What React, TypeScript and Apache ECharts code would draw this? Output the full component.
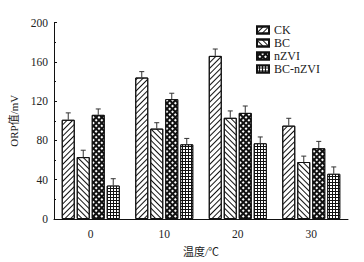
import React, { useEffect, useRef } from "react";
import * as echarts from "echarts";

const categories = ["0", "10", "20", "30"];
const seriesNames = ["CK", "BC", "nZVI", "BC-nZVI"];
const ckValues = [101, 144, 166, 95];
const bcValues = [63, 92, 103, 58];
const nzviValues = [106, 122, 108, 72];
const bcNzviValues = [34, 76, 77, 46];
const ckErrors = [7, 6, 7, 7.5];
const bcErrors = [7, 6, 7, 6];
const nzviErrors = [6, 6, 7, 7];
const bcNzviErrors = [7, 6, 6.5, 7];
const yTicks = [0, 40, 80, 120, 160, 200];

const serif = "'Liberation Serif', 'Times New Roman', 'Noto Sans CJK SC', serif";

const fills = ["#fff", "#fff", "#111", "#111"];
const decals: any[] = [
  {
    symbol: "rect", symbolSize: 1, color: "#111",
    dashArrayX: [1, 0], dashArrayY: [1, 3], rotation: -Math.PI / 4,
  },
  {
    symbol: "rect", symbolSize: 1, color: "#111",
    dashArrayX: [1, 0], dashArrayY: [1, 3], rotation: Math.PI / 4,
  },
  {
    symbol: "rect", symbolSize: 1, color: "#fff",
    dashArrayX: [2, 1.2], dashArrayY: [2, 1.2], rotation: Math.PI / 4,
  },
  {
    symbol: "rect", symbolSize: 1, color: "#fff",
    dashArrayX: [2, 1], dashArrayY: [2, 1], rotation: 0,
  },
];

export default function App() {
  const ref = useRef<HTMLDivElement>(null);
  useEffect(() => {
    if (!ref.current) return;
    const chart = echarts.init(ref.current, undefined, { renderer: "svg" });
    const values = [ckValues, bcValues, nzviValues, bcNzviValues];
    const errors = [ckErrors, bcErrors, nzviErrors, bcNzviErrors];
    const barWidth = 13;
    const gapPx = 2;
    const offsets = [0, 1, 2, 3].map((i) => (i - 1.5) * (barWidth + gapPx));

    const barSeries = seriesNames.map((name, i) => ({
      name,
      type: "bar",
      data: values[i],
      barWidth,
      barGap: `${(gapPx / barWidth) * 100}%`,
      itemStyle: { color: fills[i], borderColor: "#111", borderWidth: 1, decal: decals[i] },
      emphasis: { disabled: true },
    }));

    const errSeries = seriesNames.map((name, i) => ({
      name: name + "-err",
      type: "custom",
      z: 3,
      data: values[i].map((v, j) => [j, v, v + errors[i][j]]),
      renderItem: (params: any, api: any) => {
        const c = api.value(0);
        const p0 = api.coord([c, api.value(1)]);
        const p1 = api.coord([c, api.value(2)]);
        const x = p0[0] + offsets[i];
        return {
          type: "group",
          children: [
            { type: "line", shape: { x1: x, y1: p0[1], x2: x, y2: p1[1] }, style: { stroke: "#333", lineWidth: 1 } },
            { type: "line", shape: { x1: x - 2.5, y1: p1[1], x2: x + 2.5, y2: p1[1] }, style: { stroke: "#333", lineWidth: 1 } },
          ],
        };
      },
    }));

    chart.setOption({
      animation: false,
      backgroundColor: "#fff",
      grid: { left: 52, right: 16, top: 22.5, bottom: 42.5 },
      legend: {
        data: seriesNames,
        orient: "vertical",
        left: 251,
        top: 19,
        itemWidth: 12,
        itemHeight: 7,
        itemGap: 1,
        icon: "rect",
        textStyle: { fontFamily: serif, fontSize: 12, color: "#222" },
      },
      xAxis: {
        type: "category",
        data: categories,
        name: "温度/℃",
        nameLocation: "middle",
        nameGap: 27,
        nameTextStyle: { fontFamily: serif, fontSize: 11, color: "#222" },
        axisLine: { lineStyle: { color: "#111", width: 1 } },
        axisTick: { show: false },
        axisLabel: { fontFamily: serif, fontSize: 11.5, color: "#222", margin: 9 },
      },
      yAxis: {
        type: "value",
        min: 0,
        max: 200,
        interval: 40,
        name: "ORP值/mV",
        nameLocation: "middle",
        nameGap: 35,
        nameTextStyle: { fontFamily: serif, fontSize: 11, color: "#222" },
        axisLine: { show: true, lineStyle: { color: "#111", width: 1 } },
        axisTick: { show: true, inside: true, length: 3, lineStyle: { color: "#111" } },
        minorTick: { show: true, splitNumber: 2, length: 2, lineStyle: { color: "#111" } },
        splitLine: { show: false },
        axisLabel: {
          fontFamily: serif, fontSize: 11.5, color: "#222", margin: 6,
          formatter: (v: number) => (yTicks.includes(v) ? String(v) : ""),
        },
      },
      series: [...barSeries, ...errSeries],
    });
    return () => chart.dispose();
  }, []);
  return <div ref={ref} style={{ position: "fixed", left: 0, top: 0, width: 364, height: 262 }} />;
}
